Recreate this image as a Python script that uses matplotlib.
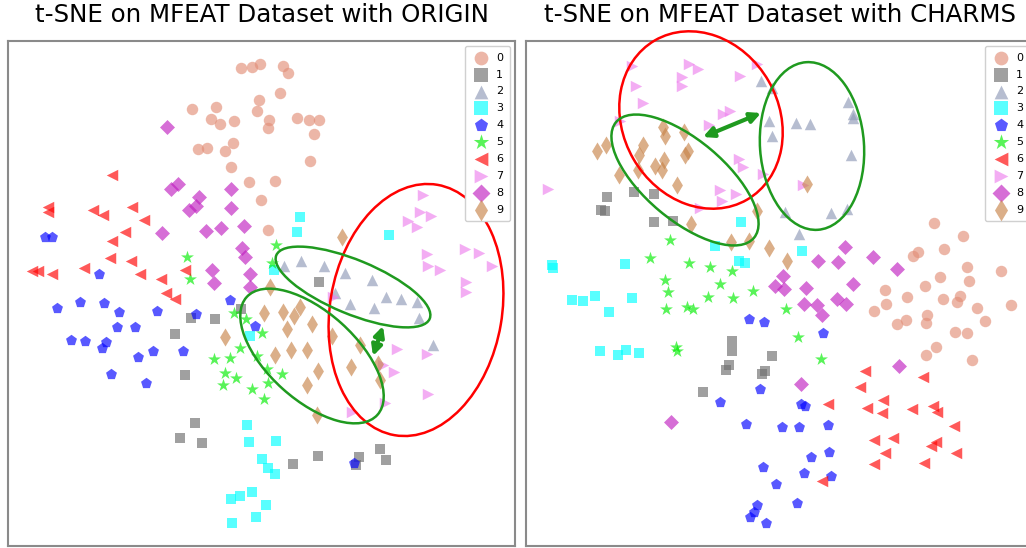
import matplotlib
matplotlib.use("Agg")
import matplotlib.pyplot as plt
from matplotlib.patches import Ellipse, FancyArrowPatch
import numpy as np

# ---------------- data (t-SNE embeddings) ----------------
labels = [str(i) for i in range(10)]
markers = ['o', 's', '^', 's', 'p', '*', '<', '>', 'D', 'd']
colors = ['#E28F78', '#6E6E6E', '#8F9AB8', '#00FFFF', '#0000FF',
          '#00EE00', '#FF0000', '#EE82EE', '#C020C0', '#C8844A']
titles = ['t-SNE on MFEAT Dataset with ORIGIN', 't-SNE on MFEAT Dataset with CHARMS']

origin_0 = [(241,68),(252,67),(260,64),(283,66),(288,73),(280,93),(259,100),(257,111),(269,120),(268,128),
            (297,118),(309,120),(319,120),(314,134),(310,161),(192,109),(216,107),(211,119),(220,124),(234,121),
            (198,149),(207,148),(225,151),(233,143),(231,167),(249,182),(261,200),(275,181),(268,230)]
origin_1 = [(191,318),(215,319),(241,309),(175,334),(185,375),(195,423),(180,438),(202,443),(319,282),
            (293,464),(318,456),(359,457),(356,465),(380,449),(386,460)]
origin_2 = [(284,266),(301,261),(324,266),(345,273),(372,280),(335,293),(350,304),(374,308),(386,297),
            (401,299),(417,302),(419,318),(433,345)]
origin_3 = [(300,217),(297,232),(389,235),(274,270),(250,336),(247,425),(249,442),(276,441),(262,459),
            (268,468),(275,474),(231,499),(240,496),(252,492),(266,505),(256,517),(232,523)]
origin_4 = [(45,237),(52,237),(99,274),(57,308),(80,302),(104,303),(119,312),(157,311),(196,314),(230,300),
            (117,327),(135,327),(71,340),(85,341),(106,342),(102,348),(138,357),(153,351),(183,351),(111,374),
            (146,383),(255,326),(354,463)]
origin_5 = [(187,257),(190,279),(276,245),(272,263),(234,313),(246,319),(262,333),(240,348),(257,356),
            (214,359),(230,358),(225,373),(236,378),(223,385),(252,389),(264,399),(267,369),(282,374),(268,383)]
origin_6 = [(112,175),(48,207),(48,212),(93,210),(103,215),(132,207),(144,220),(125,232),(112,241),(110,258),
            (131,261),(84,268),(32,271),(38,271),(52,274),(140,274),(161,279),(185,270),(166,293),(175,299)]
origin_7 = [(423,195),(420,212),(431,216),(408,221),(417,227),(427,254),(428,266),(440,270),(465,249),
            (479,253),(492,266),(466,282),(466,292),(333,297),(397,349),(427,354),(383,365),(394,372),
            (428,394),(385,403),(352,412)]
origin_8 = [(167,127),(171,189),(178,184),(199,197),(196,206),(189,210),(231,189),(231,208),(162,233),
            (206,231),(221,228),(244,226),(242,248),(245,257),(212,270),(214,283),(250,274),(250,287)]
origin_9 = [(342,237),(270,287),(264,313),(225,337),(283,312),(294,316),(300,307),(287,329),(312,324),
            (332,336),(360,345),(275,355),(291,350),(307,350),(318,371),(351,367),(378,364),(380,380),
            (307,385),(317,415)]

charms_0 = [(934,223),(963,236),(944,249),(913,256),(918,252),(967,267),(1001,271),(940,277),(925,286),
            (969,281),(885,290),(907,297),(943,299),(957,302),(960,296),(977,308),(1011,305),(985,321),
            (886,304),(874,311),(906,320),(897,324),(927,315),(926,323),(955,332),(967,333),(936,347),
            (926,355),(972,360)]
charms_1 = [(607,197),(601,210),(605,211),(634,192),(654,194),(654,222),(673,221),(732,341),(732,351),
            (729,365),(726,370),(765,371),(762,374),(772,356),(703,392)]
charms_2 = [(761,81),(769,121),(772,136),(772,88),(848,102),(853,114),(853,118),(796,123),(810,124),
            (851,155),(785,212),(831,213),(847,209),(799,234)]
charms_3 = [(741,222),(715,246),(739,261),(745,263),(625,264),(552,265),(553,268),(802,251),(572,300),
            (583,301),(595,296),(632,298),(609,312),(600,351),(618,355),(626,350),(639,353)]
charms_4 = [(749,319),(764,322),(760,389),(720,402),(746,424),(763,467),(776,484),(757,505),(754,512),
            (750,517),(766,523),(823,333),(801,404),(805,406),(782,427),(799,427),(828,425),(811,457),
            (829,452),(804,473),(831,476),(797,503)]
charms_5 = [(670,240),(650,258),(689,263),(710,267),(732,271),(665,280),(720,284),(753,291),(668,292),
            (708,297),(733,298),(666,309),(687,307),(693,309),(676,347),(677,351),(786,309),(798,337),(821,359)]
charms_6 = [(865,371),(923,377),(860,387),(883,400),(828,404),(867,408),(882,413),(912,409),(933,406),
            (937,412),(954,426),(874,440),(893,438),(931,446),(936,442),(885,453),(956,453),(874,464),
            (924,463),(822,481)]
charms_7 = [(632,66),(689,64),(698,69),(757,64),(740,76),(682,77),(682,86),(636,86),(643,103),(723,114),
            (730,111),(709,125),(620,121),(739,159),(743,167),(763,174),(720,190),(722,201),(736,194),
            (700,208),(548,189),(803,185)]
charms_8 = [(845,247),(818,261),(838,262),(873,257),(897,269),(783,276),(775,286),(784,289),(806,288),
            (853,284),(804,304),(817,305),(822,315),(837,299),(846,304),(899,366),(801,384),(671,422)]
charms_9 = [(663,127),(665,136),(684,132),(643,145),(606,145),(597,151),(639,155),(688,151),(685,155),
            (664,160),(655,166),(662,170),(638,170),(619,175),(677,185),(757,211),(691,224),(731,242),
            (749,241),(769,248),(807,184),(787,261)]

origin_sets = [origin_0, origin_1, origin_2, origin_3, origin_4, origin_5, origin_6, origin_7, origin_8, origin_9]
charms_sets = [charms_0, charms_1, charms_2, charms_3, charms_4, charms_5, charms_6, charms_7, charms_8, charms_9]

# annotation ellipses: (cx, cy, half-major, half-minor, angle, color)
origin_ellipses = [(416, 310, 127, 86, -80.3, 'red'),
                   (353, 287, 83, 27, 22.5, '#1f9a1f'),
                   (312, 356, 88, 44, 42, '#1f9a1f')]
origin_arrow = ((383, 326), (373, 356))
charms_ellipses = [(701, 120, 92, 78, 60, 'red'),
                   (812, 146, 84, 52, 86, '#1f9a1f'),
                   (685, 180, 90, 40, 40, '#1f9a1f')]
charms_arrow = ((703, 137), (761, 113))

sizes = {'o': 68, 's': 62, '^': 68, 'p': 68, '*': 95, '<': 68, '>': 68, 'D': 58, 'd': 85}

# ---------------- figure ----------------
W, H = 1026, 548
fig = plt.figure(figsize=(W / 100, H / 100), dpi=100)
renderer = fig.canvas.get_renderer()

def add_panel(x0, x1, sets, ells, arrow, title):
    y0, y1 = 41, 546
    ax = fig.add_axes([x0 / W, 1 - y1 / H, (x1 - x0) / W, (y1 - y0) / H])
    for k in range(10):
        pts = np.array(sets[k], dtype=float)
        ax.scatter(pts[:, 0], pts[:, 1], s=sizes[markers[k]], marker=markers[k], c=colors[k],
                   alpha=0.65, linewidths=0, label=labels[k])
    for (cx, cy, a, b, ang, col) in ells:
        e = Ellipse((cx, cy), 2 * a, 2 * b, angle=ang, fill=False, edgecolor=col,
                    linewidth=1.8, clip_on=False, zorder=5)
        ax.add_patch(e)
    arr = FancyArrowPatch(arrow[0], arrow[1], arrowstyle='<|-|>', mutation_scale=15,
                          color='#1f9a1f', linewidth=3, zorder=6, shrinkA=0, shrinkB=0)
    ax.add_patch(arr)
    ax.set_xlim(x0, x1)
    ax.set_ylim(y1, y0)
    ax.set_xticks([])
    ax.set_yticks([])
    for sp in ax.spines.values():
        sp.set_edgecolor('#8a8a8a')
        sp.set_linewidth(1.5)
    t = fig.text((x0 + x1) / 2 / W, 1 - 22 / H, title, ha='center', va='baseline',
                 fontsize=16, family='DejaVu Sans', color='black')
    leg = ax.legend(loc='upper right', fontsize=8, handlelength=1.6, handletextpad=0.6,
                    labelspacing=0.62, borderpad=0.6, borderaxespad=0.45, markerscale=1.2,
                    framealpha=1.0, edgecolor='#d0d0d0')
    for h in leg.legend_handles:
        h.set_alpha(0.65)
    return ax, t

ax1, t1 = add_panel(8, 515, origin_sets, origin_ellipses, origin_arrow, titles[0])
ax2, t2 = add_panel(526, 1035, charms_sets, charms_ellipses, charms_arrow, titles[1])

# fit the title width to the reference (~455 px for the left title)
w1 = t1.get_window_extent(renderer).width
fs = 16 * 455.0 / w1
t1.set_fontsize(fs)
t2.set_fontsize(fs)

fig.savefig('out.png', dpi=100)
